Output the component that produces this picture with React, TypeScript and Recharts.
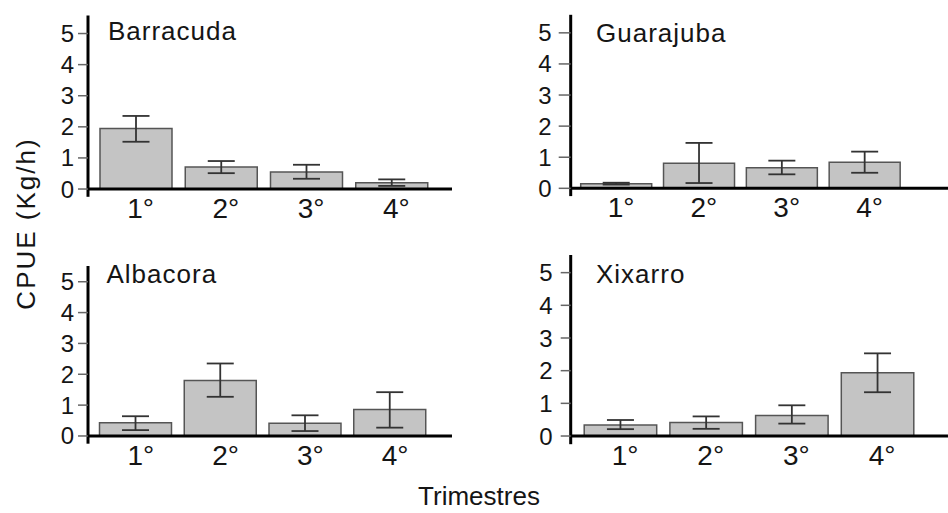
import React from "react";
import {
  BarChart,
  Bar,
  XAxis,
  YAxis,
  ErrorBar,
  ReferenceLine,
} from "recharts";

const quarters = ["1°", "2°", "3°", "4°"];
const yTicks = [0, 1, 2, 3, 4, 5];

const barracudaMean = [1.95, 0.71, 0.55, 0.2];
const barracudaLow = [1.52, 0.51, 0.33, 0.1];
const barracudaHigh = [2.35, 0.9, 0.78, 0.31];

const guarajubaMean = [0.15, 0.81, 0.66, 0.84];
const guarajubaLow = [0.12, 0.17, 0.45, 0.5];
const guarajubaHigh = [0.18, 1.46, 0.89, 1.18];

const albacoraMean = [0.43, 1.8, 0.41, 0.86];
const albacoraLow = [0.19, 1.27, 0.16, 0.27];
const albacoraHigh = [0.64, 2.35, 0.67, 1.42];

const xixarroMean = [0.34, 0.41, 0.63, 1.94];
const xixarroLow = [0.21, 0.22, 0.38, 1.34];
const xixarroHigh = [0.49, 0.6, 0.94, 2.53];

const FONT = "'Liberation Sans', Arial, sans-serif";

function build(mean: number[], low: number[], high: number[]) {
  return quarters.map((q, i) => ({
    q,
    v: mean[i],
    err: [mean[i] - low[i], high[i] - mean[i]],
  }));
}

// layout of each small chart, in page pixels
const panels = [
  {
    title: "Barracuda", data: build(barracudaMean, barracudaLow, barracudaHigh),
    left: 0, top: 0, axisX: 88, right: 452, plotTop: 15.5, plotBottom: 196.8,
    max: 5.58, pad: { left: 5, right: 18 }, barSize: 72, tickSize: 10, tickMargin: 4,
    tx: 108, ty: 40,
  },
  {
    title: "Guarajuba", data: build(guarajubaMean, guarajubaLow, guarajubaHigh),
    left: 474, top: 0, axisX: 570.7, right: 948, plotTop: 14.8, plotBottom: 196.1,
    max: 5.58, pad: { left: 4, right: 42 }, barSize: 71, tickSize: 12, tickMargin: 7,
    tx: 596, ty: 41.5,
  },
  {
    title: "Albacora", data: build(albacoraMean, albacoraLow, albacoraHigh),
    left: 0, top: 240, axisX: 88, right: 452, plotTop: 266, plotBottom: 443.7,
    max: 5.51, pad: { left: 5.5, right: 19.5 }, barSize: 72, tickSize: 10, tickMargin: 4,
    tx: 106.5, ty: 282.5,
  },
  {
    title: "Xixarro", data: build(xixarroMean, xixarroLow, xixarroHigh),
    left: 474, top: 240, axisX: 570.7, right: 948, plotTop: 255, plotBottom: 444.2,
    max: 5.54, pad: { left: 6.5, right: 28 }, barSize: 72.5, tickSize: 10, tickMargin: 8,
    tx: 596, ty: 282.5,
  },
];

const XH = 36;

function Panel({ p }: { p: (typeof panels)[number] }) {
  const width = p.right - p.left;
  const height = p.plotBottom - p.top + XH;
  return (
    <div style={{ position: "absolute", left: p.left, top: p.top }}>
      <BarChart
        width={width}
        height={height}
        data={p.data}
        margin={{ top: p.plotTop - p.top, right: 0, bottom: 0, left: 0 }}
      >
        <XAxis
          dataKey="q"
          height={XH}
          axisLine={false}
          tickLine={false}
          tickSize={0}
          tickMargin={1}
          padding={p.pad}
          tick={{ fill: "#151515", fontSize: 28, fontFamily: FONT, dx: 5 }}
          interval={0}
        />
        <YAxis
          type="number"
          domain={[-0.25, p.max]}
          ticks={yTicks}
          interval={0}
          width={p.axisX - p.left}
          axisLine={{ stroke: "#000", strokeWidth: 3 }}
          tickLine={{ stroke: "#666", strokeWidth: 1.5 }}
          tickSize={p.tickSize}
          tickMargin={p.tickMargin}
          tick={{ fill: "#151515", fontSize: 24, fontFamily: FONT }}
          allowDataOverflow
        />
        <Bar
          dataKey="v"
          fill="#c4c4c4"
          stroke="#555"
          strokeWidth={1.5}
          barSize={p.barSize}
          isAnimationActive={false}
        >
          <ErrorBar dataKey="err" width={13.5} stroke="#333" strokeWidth={1.8} />
        </Bar>
        <ReferenceLine y={0} stroke="#000" strokeWidth={3} />
      </BarChart>
    </div>
  );
}

export default function App() {
  return (
    <div
      style={{
        position: "absolute",
        left: 0,
        top: 0,
        width: 948,
        height: 513,
        background: "#fff",
        overflow: "hidden",
        fontFamily: FONT,
      }}
    >
      {panels.map((p) => (
        <Panel key={p.title} p={p} />
      ))}
      <svg
        width={948}
        height={513}
        style={{ position: "absolute", left: 0, top: 0, pointerEvents: "none" }}
      >
        {panels.map((p) => (
          <text
            key={p.title}
            x={p.tx}
            y={p.ty}
            fontSize={26}
            letterSpacing={1}
            fill="#151515"
            fontFamily={FONT}
          >
            {p.title}
          </text>
        ))}
        <text
          x={35}
          y={223.5}
          transform="rotate(-90 35 223.5)"
          textAnchor="middle"
          fontSize={26}
          letterSpacing={2}
          fill="#151515"
          fontFamily={FONT}
        >
          CPUE (Kg/h)
        </text>
        <text
          x={479}
          y={505}
          textAnchor="middle"
          fontSize={26}
          fill="#151515"
          fontFamily={FONT}
        >
          Trimestres
        </text>
      </svg>
    </div>
  );
}
